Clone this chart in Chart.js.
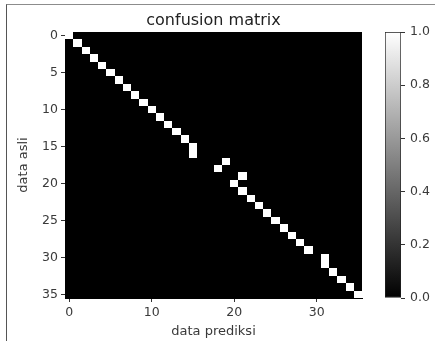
<!DOCTYPE html>
<html>
<head>
<meta charset="utf-8">
<script src="https://cdn.jsdelivr.net/npm/chart.js@4.4.1/dist/chart.umd.min.js"></script>
<style>
  html, body { margin: 0; padding: 0; background: #fff; }
  #wrap { position: relative; width: 435px; height: 341px; overflow: hidden; }
  #frame { position: absolute; left: 6px; top: 4px; width: 440px; height: 400px;
           border-top: 1px solid #8c8c8c; border-left: 1px solid #555; }
  canvas { position: absolute; left: 0; top: 0; }
</style>
</head>
<body>
<div id="wrap">
  <div id="frame"></div>
  <canvas id="main" width="435" height="341"></canvas>
  <canvas id="cbar" width="435" height="341"></canvas>
</div>
<script>
// ---- data ----
const classes = [0,1,2,3,4,5,6,7,8,9,10,11,12,13,14,15,16,17,18,19,20,21,22,23,24,25,26,27,28,29,30,31,32,33,34,35];
const actualClass    = [0,1,2,3,4,5,6,7,8,9,10,11,12,13,14,15,16,17,18,19,20,21,22,23,24,25,26,27,28,29,30,31,32,33,34,35];
const predictedClass = [0,1,2,3,4,5,6,7,8,9,10,11,12,13,14,15,15,19,18,21,20,21,22,23,24,25,26,27,28,29,31,31,32,33,34,35];
const cellValue      = [1,1,1,1,1,1,1,1,1,1,1,1,1,1,1,1,1,1,1,1,1,1,1,1,1,1,1,1,1,1,1,1,1,1,1,1];
const xTicks = [0, 10, 20, 30];
const yTicks = [0, 5, 10, 15, 20, 25, 30, 35];
const cbTicks = [0, 0.2, 0.4, 0.6, 0.8, 1.0];
const titleText = 'confusion matrix';
const xLabel = 'data prediksi';
const yLabel = 'data asli';

// build full matrix from the arrays
const n = classes.length;
const matrix = classes.map(() => classes.map(() => 0));
actualClass.forEach((r, i) => { matrix[r][predictedClass[i]] = cellValue[i]; });

const TXT = '#3a3a3a';
const FONT = 'DejaVu Sans';

function gray(v) { const g = Math.round(v * 255); return `rgb(${g},${g},${g})`; }

const heatmapPlugin = {
  id: 'heatmap',
  beforeDatasetsDraw(chart) {
    const { ctx, scales: { x, y } } = chart;
    ctx.save();
    for (let r = 0; r < n; r++) {
      for (let c = 0; c < n; c++) {
        const x0 = Math.round(x.getPixelForValue(classes[c] - 0.5));
        const x1 = Math.round(x.getPixelForValue(classes[c] + 0.5));
        const y0 = Math.round(y.getPixelForValue(classes[r] - 0.5));
        const y1 = Math.round(y.getPixelForValue(classes[r] + 0.5));
        ctx.fillStyle = gray(matrix[r][c]);
        ctx.fillRect(Math.min(x0, x1), Math.min(y0, y1), Math.abs(x1 - x0), Math.abs(y1 - y0));
      }
    }
    ctx.restore();
  }
};

new Chart(document.getElementById('main'), {
  type: 'scatter',
  data: {
    datasets: [{
      data: actualClass.map((r, i) => ({ x: predictedClass[i], y: r })),
      pointRadius: 0,
      showLine: false
    }]
  },
  plugins: [heatmapPlugin],
  options: {
    responsive: false,
    animation: false,
    layout: { padding: { left: 0, right: 73, top: 0, bottom: 0 } },
    plugins: {
      legend: { display: false },
      tooltip: { enabled: false },
      title: {
        display: true,
        text: titleText,
        fullSize: false,
        color: '#222',
        font: { family: FONT, size: 16, weight: 'normal', lineHeight: 1.2 },
        padding: { top: 11, bottom: 1.8 }
      }
    },
    scales: {
      x: {
        type: 'linear',
        min: -0.5, max: 35.5,
        afterBuildTicks: s => { s.ticks = xTicks.map(v => ({ value: v })); },
        afterFit: s => { s.height = 43; },
        ticks: { color: TXT, font: { family: FONT, size: 12.5 }, padding: 3, maxRotation: 0, autoSkip: false },
        grid: { display: true, drawOnChartArea: false, drawTicks: true, tickLength: 4, color: '#333' },
        border: { display: true, color: '#000' },
        title: { display: true, text: xLabel, color: TXT, font: { family: FONT, size: 13, lineHeight: 1.2 }, padding: { top: 0, bottom: 2 } }
      },
      y: {
        type: 'linear',
        reverse: true,
        min: -0.5, max: 35.5,
        afterBuildTicks: s => { s.ticks = yTicks.map(v => ({ value: v })); },
        afterFit: s => { s.width = 65; },
        ticks: { color: TXT, font: { family: FONT, size: 12.5 }, padding: 3, autoSkip: false },
        grid: { display: true, drawOnChartArea: false, drawTicks: true, tickLength: 4, color: '#333' },
        border: { display: true, color: '#000' },
        title: { display: true, text: yLabel, color: TXT, font: { family: FONT, size: 13, lineHeight: 1.2 }, padding: { top: 16, bottom: 0 } }
      }
    }
  }
});

// ---- colorbar ----
new Chart(document.getElementById('cbar'), {
  type: 'bar',
  data: {
    labels: ['scale'],
    datasets: [{
      data: [[cbTicks[0], cbTicks[cbTicks.length - 1]]],
      backgroundColor: (c) => {
        const area = c.chart.chartArea;
        if (!area) return '#888';
        const g = c.chart.ctx.createLinearGradient(0, area.bottom, 0, area.top);
        g.addColorStop(0, gray(0));
        g.addColorStop(1, gray(1));
        return g;
      },
      borderColor: '#222',
      borderWidth: 1,
      borderSkipped: false,
      barPercentage: 1,
      categoryPercentage: 1
    }]
  },
  options: {
    responsive: false,
    animation: false,
    layout: { padding: { left: 385, right: 0, top: 32, bottom: 43 } },
    plugins: { legend: { display: false }, tooltip: { enabled: false }, title: { display: false } },
    scales: {
      x: { display: false },
      y: {
        position: 'right',
        min: 0, max: 1,
        afterBuildTicks: s => { s.ticks = cbTicks.map(v => ({ value: v })); },
        afterFit: s => { s.width = 34; },
        ticks: { color: TXT, font: { family: FONT, size: 12.5 }, padding: 5, callback: v => Number(v).toFixed(1) },
        grid: { display: true, drawOnChartArea: false, drawTicks: true, tickLength: 4, color: '#333' },
        border: { display: false }
      }
    }
  }
});
</script>
</body>
</html>
